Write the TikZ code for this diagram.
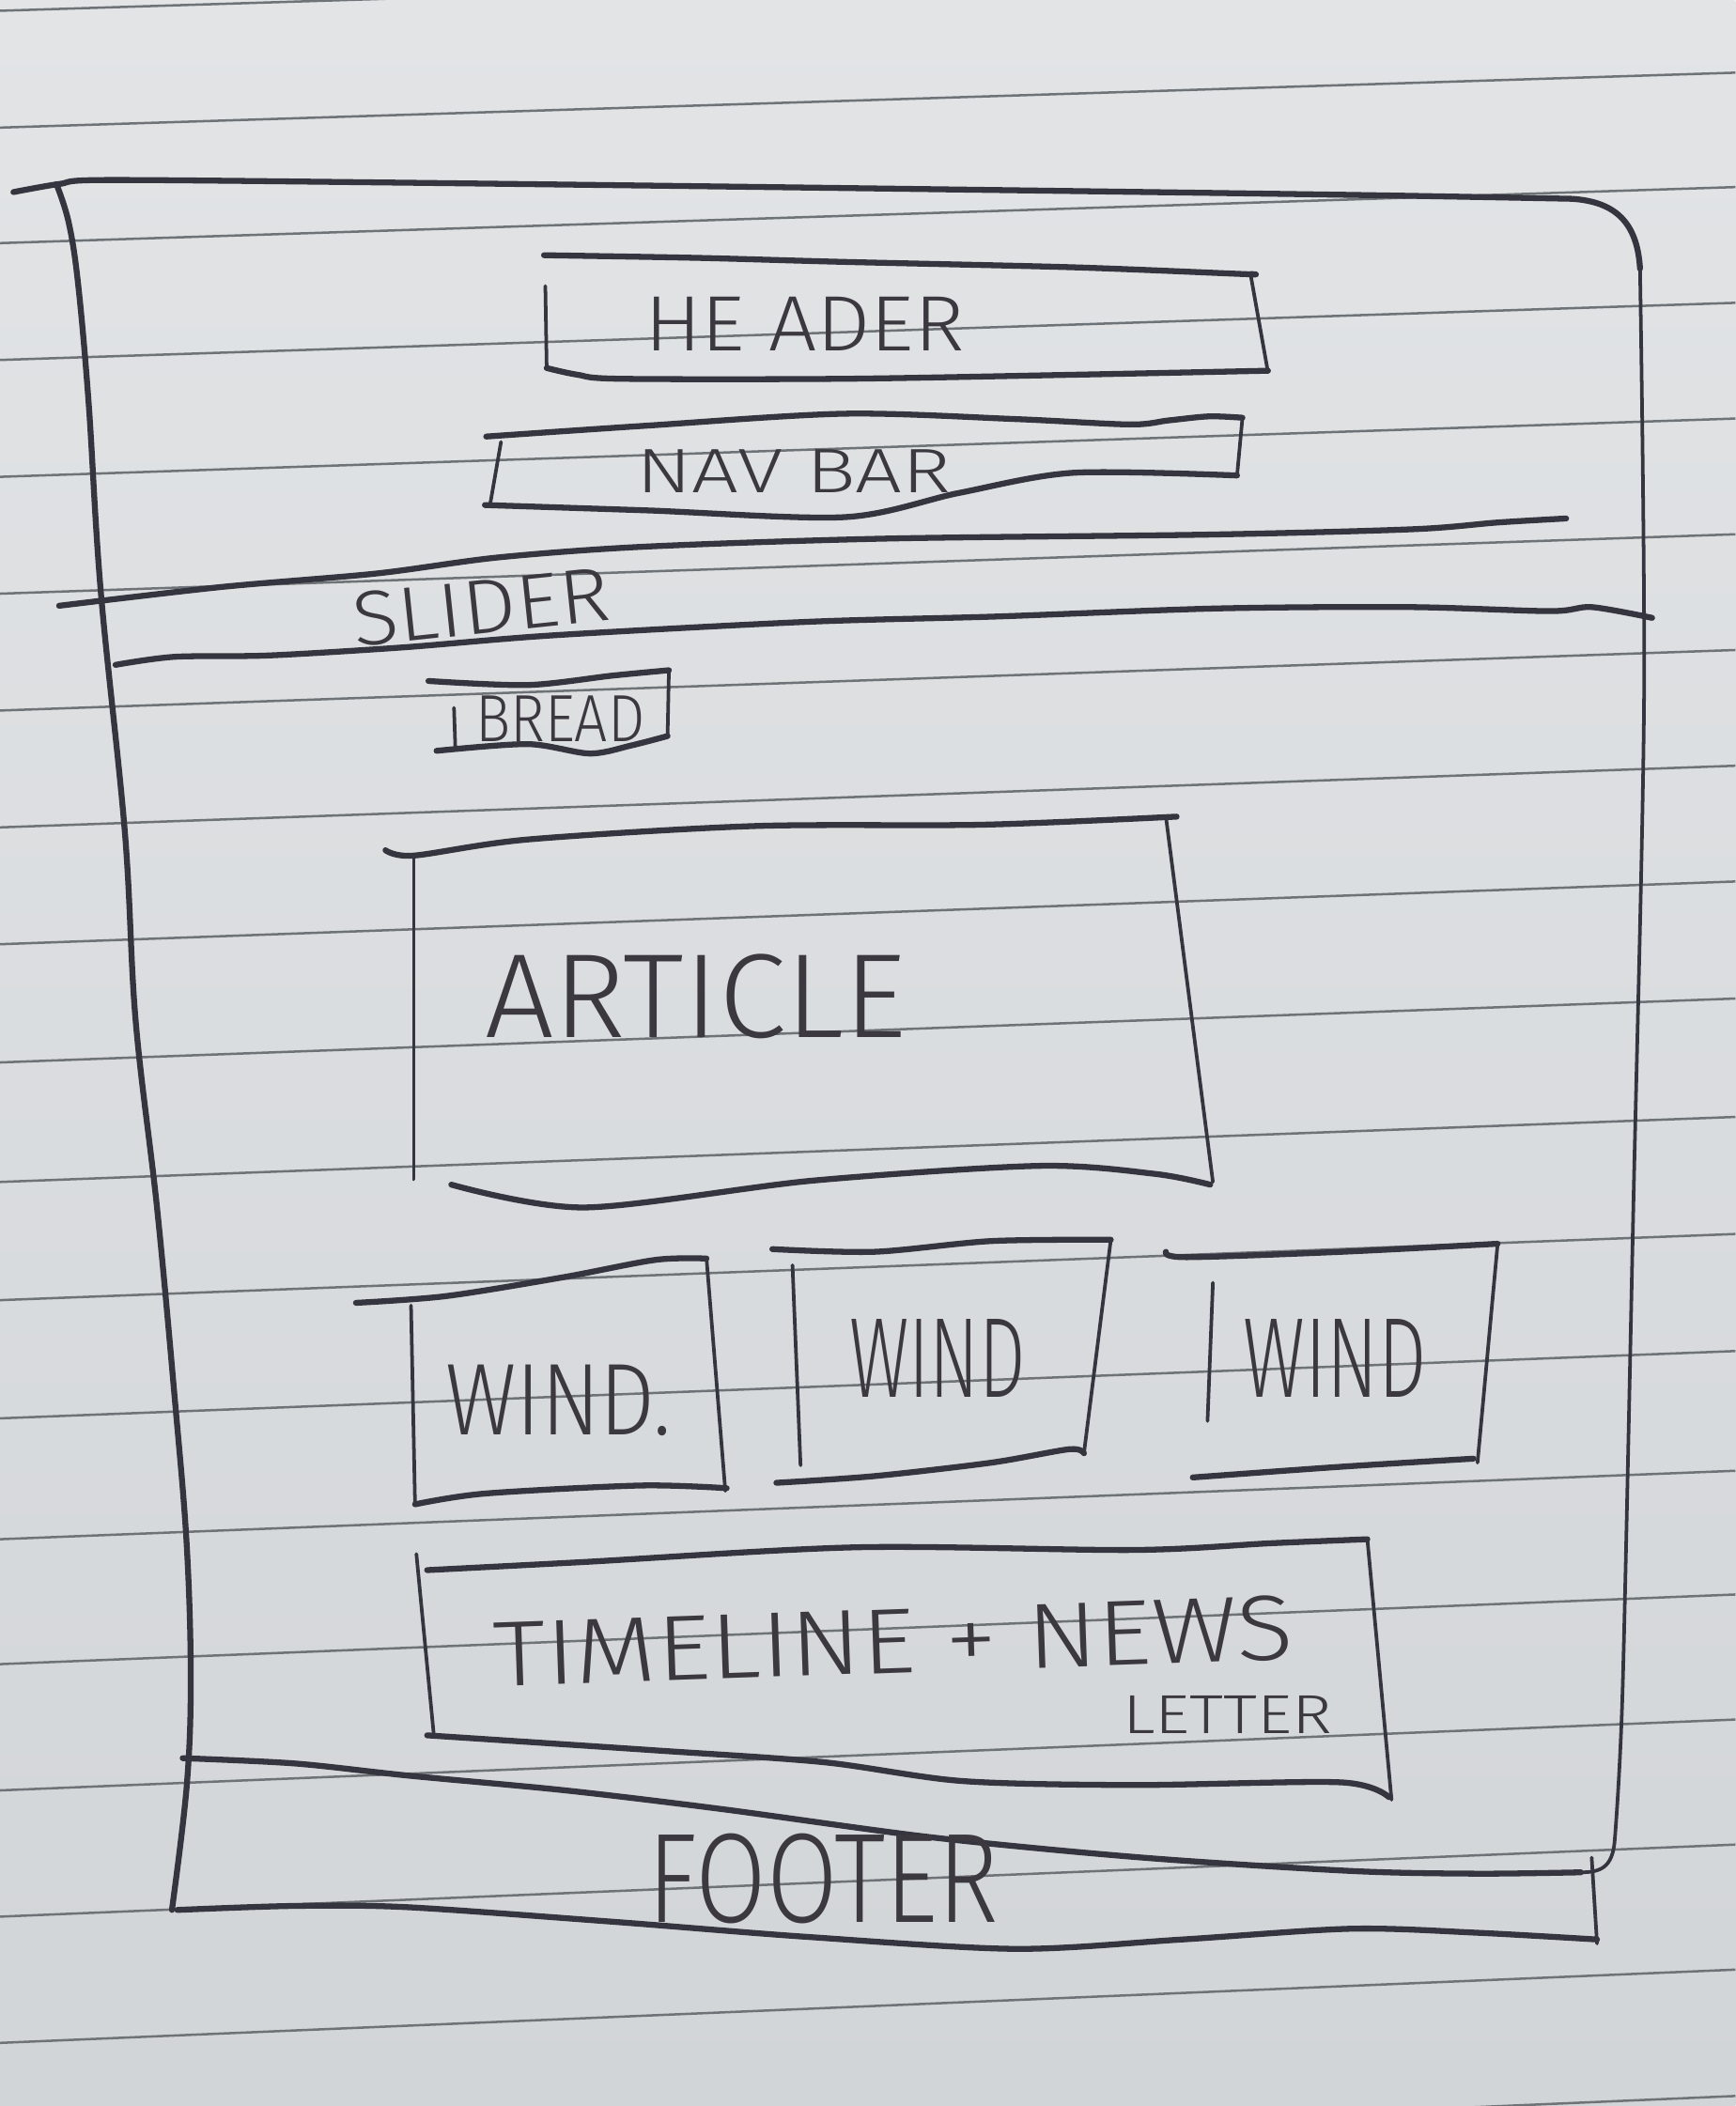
\documentclass[tikz,border=0pt]{standalone}
\usepackage{fontspec}
\usepackage{graphicx}
\newfontfamily\hand{Fira Sans Light}
\definecolor{paperTop}{RGB}{226,228,230}
\definecolor{paperBot}{RGB}{210,213,216}
\definecolor{rulegray}{RGB}{110,115,119}
\definecolor{ink}{RGB}{52,53,63}
\definecolor{inktext}{RGB}{60,56,64}
\tikzset{
  pen/.style={draw=ink, line width=1.25pt, line cap=round, line join=round},
  penthin/.style={draw=ink, line width=0.75pt, line cap=round, line join=round},
  rule/.style={draw=rulegray, line width=0.5pt},
  lbl/.style={text=inktext, inner sep=0pt, font=\hand}
}
\begin{document}
\begin{tikzpicture}[x=0.01cm,y=-0.01cm]
\useasboundingbox (0,0) rectangle (1292,1568);
% paper
\shade[top color=paperTop,bottom color=paperBot] (0,0) rectangle (1292,1568);
% ruled lines of the notebook page
\foreach \ly in {8,95,181,268,355,442,529,616,703,791,880,968,1056,1146,1239,1333,1427,1521,1616}{
  \pgfmathsetmacro{\ry}{\ly-40-(\ly/1568)*15}
  \draw[rule] (0,\ly) -- (1292,\ry);
}

% ---------- page frame ----------
\draw[pen] plot[smooth,tension=0.5] coordinates {(10,143) (44,137) (80,134) (300,136) (629,140) (1000,145) (1170,148)}
  .. controls (1203,150) and (1219,166) .. (1221,200);
\draw[penthin] plot[smooth,tension=0.5] coordinates {(1221,200) (1224,520) (1216,900) (1208,1259) (1202,1372)}
  .. controls (1200,1390) and (1192,1394) .. (1177,1394);
\draw[pen] plot[smooth,tension=0.6] coordinates {(42,137) (51,165) (58,210) (66,300) (75,440) (93,620) (101,760) (117,900) (130,1040) (139,1150) (142,1250) (139,1330) (128,1422)};

% ---------- header ----------
\draw[penthin] (406,213) -- (407,274);
\draw[pen] plot[smooth,tension=0.5] coordinates {(407,274) (430,279) (462,282) (629,282) (799,279) (944,276)};
\draw[penthin] (944,277) -- (931,204);
\draw[pen] plot[smooth,tension=0.5] coordinates {(931,204) (925,204) (799,199) (629,195) (520,192) (405,190)};
\node[lbl] (header) at (599,241) {\resizebox{2.38cm}{0.40cm}{HE ADER}};

% ---------- nav bar ----------
\draw[penthin] (373,329) -- (365,375);
\draw[pen] plot[smooth,tension=0.5] coordinates {(361,376) (482,380) (629,385) (714,367) (799,352) (921,354)};
\draw[penthin] (921,354) -- (925,311);
\draw[pen] plot[smooth,tension=0.5] coordinates {(925,311) (900,310) (870,313) (841,316) (756,312) (629,308) (480,317) (362,325)};
\node[lbl] (navbar) at (591,351) {\resizebox{2.34cm}{0.32cm}{NAV BAR}};

% ---------- slider band ----------
\draw[pen] plot[smooth,tension=0.5] coordinates {(44,451) (165,437) (280,427) (371,415) (480,407) (659,401) (900,398) (1052,394) (1115,389) (1166,386)};
\draw[pen] plot[smooth,tension=0.5] coordinates {(86,495) (130,489) (200,488) (300,482) (412,473) (600,463) (742,459) (906,453) (1050,452) (1154,455) (1185,452) (1230,460)};
\node[lbl,rotate=6] (slider) at (358,452) {\resizebox{1.92cm}{0.40cm}{SLIDER}};

% ---------- breadcrumb ----------
\draw[pen] plot[smooth,tension=0.5] coordinates {(319,507) (393,510) (456,503) (498,499)};
\draw[penthin] (498,499) -- (497,548);
\draw[pen] plot[smooth,tension=0.5] coordinates {(497,548) (470,555) (439,561) (393,554) (325,559)};
\draw[penthin] (338,527) -- (339,557);
\node[lbl] (bread) at (417,535) {\resizebox{1.26cm}{0.34cm}{BREAD}};

% ---------- article ----------
\draw[pen] plot[smooth,tension=0.5] coordinates {(287,633) (308,637) (393,625) (562,615) (732,614) (876,608)};
\draw[penthin] (308,638) -- (308,878);
\draw[penthin] (868,608) -- (903,880);
\draw[pen] plot[smooth,tension=0.5] coordinates {(336,882) (435,899) (605,879) (774,868) (860,874) (901,882)};
\node[lbl] (article) at (518,742) {\resizebox{3.14cm}{0.62cm}{ARTICLE}};

% ---------- three widgets ----------
\draw[pen] plot[smooth,tension=0.5] coordinates {(265,970) (332,965) (419,951) (488,938) (526,937)};
\draw[penthin] (526,937) -- (540,1110);
\draw[pen] plot[smooth,tension=0.5] coordinates {(541,1108) (477,1106) (361,1112) (309,1120)};
\draw[penthin] (306,972) -- (309,1120);
\node[lbl] (wind1) at (416,1043) {\resizebox{1.68cm}{0.52cm}{WIND.}};

\draw[pen] plot[smooth,tension=0.5] coordinates {(575,930) (651,932) (738,924) (827,923)};
\draw[penthin] (827,923) -- (807,1082);
\draw[pen] plot[smooth,tension=0.5] coordinates {(807,1082) (796,1079) (738,1089) (651,1099) (578,1104)};
\draw[penthin] (590,942) -- (596,1091);
\node[lbl] (wind2) at (698,1011) {\resizebox{1.31cm}{0.58cm}{WIND}};

\draw[pen] plot[smooth,tension=0.5] coordinates {(868,932) (883,936) (999,932) (1115,926)};
\draw[penthin] (1115,926) -- (1100,1089);
\draw[pen] plot[smooth,tension=0.5] coordinates {(1097,1086) (999,1092) (888,1100)};
\draw[penthin] (903,955) -- (899,1058);
\node[lbl] (wind3) at (994,1011) {\resizebox{1.36cm}{0.58cm}{WIND}};

% ---------- timeline + newsletter ----------
\draw[pen] plot[smooth,tension=0.5] coordinates {(318,1169) (434,1163) (638,1152) (844,1154) (946,1149) (1018,1146)};
\draw[penthin] (1018,1146) -- (1036,1340);
\draw[pen] plot[smooth,tension=0.5] coordinates {(1034,1338) (998,1327) (844,1329) (716,1326) (613,1312) (485,1303) (318,1292)};
\draw[penthin] (310,1157) -- (323,1292);
\node[lbl,rotate=2] (timeline) at (665,1222) {\resizebox{5.95cm}{0.48cm}{TIMELINE + NEWS}};
\node[lbl] (letter) at (914,1277) {\resizebox{1.56cm}{0.28cm}{LETTER}};

% ---------- footer ----------
\draw[pen] plot[smooth,tension=0.5] coordinates {(136,1309) (220,1313) (304,1322) (421,1333) (538,1347) (694,1368) (850,1383) (1006,1393) (1100,1395) (1177,1394)};
\draw[pen] plot[smooth,tension=0.5] coordinates {(132,1422) (220,1419) (304,1420) (459,1431) (600,1442) (756,1451) (880,1444) (1006,1436) (1100,1439) (1189,1444)};
\draw[penthin] (1185,1383) -- (1189,1447);
\node[lbl] (footer) at (613,1399) {\resizebox{2.61cm}{0.66cm}{FOOTER}};
\end{tikzpicture}
\end{document}
